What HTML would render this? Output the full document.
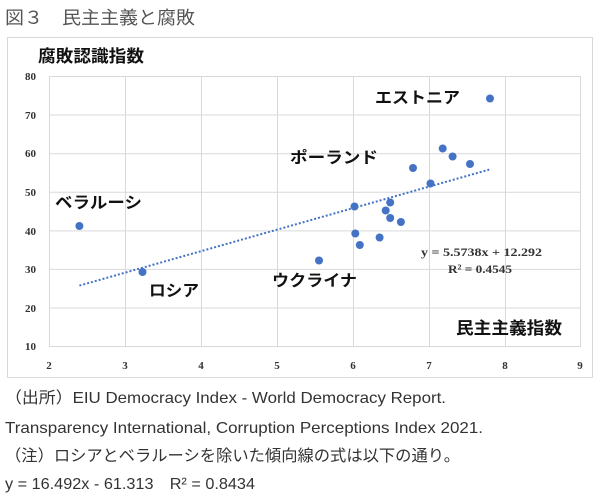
<!DOCTYPE html>
<html><head><meta charset="utf-8"><style>
html,body{margin:0;padding:0;background:#fff;}
svg{display:block;}
.jp{font-family:"Liberation Sans","Noto Sans CJK JP",sans-serif;}
.b{font-weight:bold;fill:#111;}
.t{font-family:"Liberation Serif",serif;font-weight:bold;font-size:11px;fill:#333;}
.n{font-family:"Liberation Sans","Noto Sans CJK JP",sans-serif;font-size:16px;fill:#333;}
</style></head><body>
<svg width="600" height="500" viewBox="0 0 600 500">
<text x="5" y="24" class="jp" font-size="18" fill="#555" textLength="190" lengthAdjust="spacingAndGlyphs">図３　民主主義と腐敗</text>
<rect x="7.5" y="37.5" width="585" height="340" fill="#fff" stroke="#d9d9d9"/>
<text x="38" y="62" class="jp b" font-size="17" textLength="106" lengthAdjust="spacingAndGlyphs">腐敗認識指数</text>
<g stroke="#d9d9d9" stroke-width="1">
<line x1="49" y1="76.5" x2="581" y2="76.5"/><line x1="49" y1="115" x2="581" y2="115"/>
<line x1="49" y1="153.7" x2="581" y2="153.7"/><line x1="49" y1="192.3" x2="581" y2="192.3"/>
<line x1="49" y1="230.9" x2="581" y2="230.9"/><line x1="49" y1="269.4" x2="581" y2="269.4"/>
<line x1="49" y1="308" x2="581" y2="308"/><line x1="49" y1="346.5" x2="581" y2="346.5"/>
<line x1="49.5" y1="76" x2="49.5" y2="346"/><line x1="125.5" y1="76" x2="125.5" y2="346"/>
<line x1="201.5" y1="76" x2="201.5" y2="346"/><line x1="277.5" y1="76" x2="277.5" y2="346"/>
<line x1="353.5" y1="76" x2="353.5" y2="346"/><line x1="429.5" y1="76" x2="429.5" y2="346"/>
<line x1="505.5" y1="76" x2="505.5" y2="346"/><line x1="580.5" y1="76" x2="580.5" y2="346"/>
</g>
<g class="t" text-anchor="end">
<text x="36" y="80">80</text><text x="36" y="119">70</text><text x="36" y="157">60</text>
<text x="36" y="196">50</text><text x="36" y="235">40</text><text x="36" y="273">30</text>
<text x="36" y="312">20</text><text x="36" y="350">10</text>
</g>
<g class="t" text-anchor="middle">
<text x="49" y="369">2</text><text x="125" y="369">3</text><text x="201" y="369">4</text>
<text x="277" y="369">5</text><text x="353" y="369">6</text><text x="429" y="369">7</text>
<text x="505" y="369">8</text><text x="580" y="369">9</text>
</g>
<line x1="79.4" y1="285.6" x2="491.3" y2="169" stroke="#4472c4" stroke-width="2" stroke-dasharray="2,2"/>
<g fill="#4472c4">
<circle cx="79.4" cy="226" r="4"/><circle cx="142.5" cy="272" r="4"/><circle cx="490" cy="98.5" r="4"/>
<circle cx="319" cy="260.5" r="4"/><circle cx="354.5" cy="206.5" r="4"/><circle cx="355.3" cy="233.5" r="4"/>
<circle cx="359.8" cy="245" r="4"/><circle cx="379.6" cy="237.5" r="4"/><circle cx="385.7" cy="210.5" r="4"/>
<circle cx="390.2" cy="202.5" r="4"/><circle cx="390.2" cy="218" r="4"/><circle cx="400.9" cy="222" r="4"/>
<circle cx="413" cy="168" r="4"/><circle cx="430.5" cy="183.5" r="4"/><circle cx="442.7" cy="148.5" r="4"/>
<circle cx="452.6" cy="156.5" r="4"/><circle cx="470" cy="164" r="4"/>
</g>
<g class="jp b" font-size="16">
<text x="375" y="103" textLength="85" lengthAdjust="spacingAndGlyphs">エストニア</text>
<text x="290" y="163" textLength="88" lengthAdjust="spacingAndGlyphs">ポーランド</text>
<text x="55" y="208" textLength="87" lengthAdjust="spacingAndGlyphs">ベラルーシ</text>
<text x="149" y="296" textLength="50" lengthAdjust="spacingAndGlyphs">ロシア</text>
<text x="272" y="286" textLength="85" lengthAdjust="spacingAndGlyphs">ウクライナ</text>
<text x="456" y="334" font-size="17" textLength="106" lengthAdjust="spacingAndGlyphs">民主主義指数</text>
</g>
<text x="421" y="256" font-family="Liberation Serif,serif" font-weight="bold" font-size="12" fill="#333" textLength="121" lengthAdjust="spacingAndGlyphs">y = 5.5738x + 12.292</text>
<text x="448" y="273" font-family="Liberation Serif,serif" font-weight="bold" font-size="12" fill="#333" textLength="64" lengthAdjust="spacingAndGlyphs">R² = 0.4545</text>
<text x="5" y="403" class="n" textLength="441" lengthAdjust="spacingAndGlyphs">（出所）EIU Democracy Index - World Democracy Report.</text>
<text x="5" y="433" class="n" textLength="478" lengthAdjust="spacingAndGlyphs">Transparency International, Corruption Perceptions Index 2021.</text>
<text x="5" y="461" class="n" textLength="455" lengthAdjust="spacingAndGlyphs">（注）ロシアとベラルーシを除いた傾向線の式は以下の通り。</text>
<text x="5" y="489" class="n" textLength="250" lengthAdjust="spacingAndGlyphs">y = 16.492x - 61.313　R² = 0.8434</text>
</svg>
</body></html>
